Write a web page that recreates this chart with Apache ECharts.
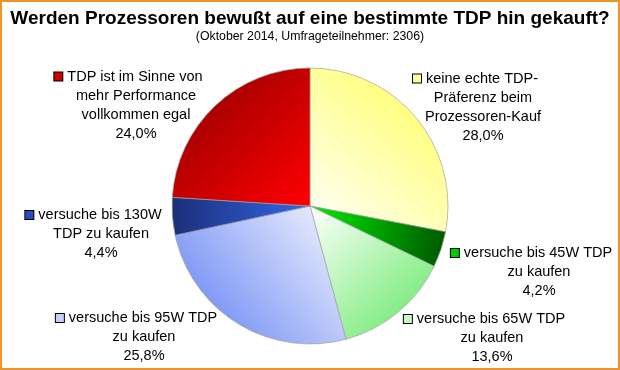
<!DOCTYPE html>
<html>
<head>
<meta charset="utf-8">
<script src="https://cdn.jsdelivr.net/npm/echarts@6/dist/echarts.min.js"></script>
<style>
html,body{margin:0;padding:0;background:#fff;}
#c{width:620px;height:370px;}
</style>
</head>
<body>
<div id="c"></div>
<script>
// ---- data ----
const titleText = 'Werden Prozessoren bewußt auf eine bestimmte TDP hin gekauft?';
const subtitleText = '(Oktober 2014, Umfrageteilnehmer: 2306)';
const categories = [
  'keine echte TDP-\nPräferenz beim\nProzessoren-Kauf',
  'versuche bis 45W TDP\nzu kaufen',
  'versuche bis 65W TDP\nzu kaufen',
  'versuche bis 95W TDP\nzu kaufen',
  'versuche bis 130W\nTDP zu kaufen',
  'TDP ist im Sinne von\nmehr Performance\nvollkommen egal'
];
const values = [28.0, 4.2, 13.6, 25.8, 4.4, 24.0];

// ---- styles ----
const gradients = [
  {x:0,y:1,x2:1,y2:0, c:['#ffffff','#ffff55']},
  {x:0,y:0,x2:1,y2:0.3, c:['#00ee00','#005a00']},
  {x:0,y:0,x2:1,y2:1, c:['#ffffff','#5ee85e']},
  {x:1,y:0,x2:0,y2:1, c:['#f8f8ff','#5a7cf2']},
  {x:0,y:0,x2:1,y2:0, c:['#1b2f78','#3466e8']},
  {x:0,y:0,x2:1,y2:1, c:['#8a0000','#ff0000']}
];
const markerColors = ['#ffff99','#00cc00','#c8f8c8','#c8d0f8','#2a4cc0','#cc0000'];
const labelPos = [
  [483, 107], [539, 272], [492, 338], [144, 337], [101, 234], [136, 105]
];

const data = values.map((v, i) => {
  const g = gradients[i];
  return {
    name: categories[i],
    value: v,
    itemStyle: {
      color: new echarts.graphic.LinearGradient(g.x, g.y, g.x2, g.y2, [
        {offset: 0, color: g.c[0]}, {offset: 1, color: g.c[1]}
      ])
    }
  };
});

const rich = {
  t: {fontFamily: 'Liberation Sans, Arial', fontSize: 14.5, color: '#000', lineHeight: 19},
  s: {width: 15, height: 10}
};
markerColors.forEach((c, i) => {
  rich['m' + i] = {width: 8, height: 8, backgroundColor: c, borderColor: '#000', borderWidth: 1};
  rich['g' + i] = {width: 5};
});

const chart = echarts.init(document.getElementById('c'), null, {renderer: 'canvas'});
chart.setOption({
  animation: false,
  backgroundColor: '#fff',
  title: {
    text: titleText,
    subtext: subtitleText,
    left: 'center',
    top: 4,
    itemGap: 3,
    textStyle: {fontFamily: 'Liberation Sans, Arial', fontSize: 19, fontWeight: 'bold', color: '#000'},
    subtextStyle: {fontFamily: 'Liberation Sans, Arial', fontSize: 12.3, color: '#000'}
  },
  graphic: [{
    type: 'rect', z: 100,
    shape: {x: 1, y: 1, width: 618, height: 368},
    style: {fill: null, stroke: '#f0922a', lineWidth: 2}
  }],
  series: [{
    type: 'pie',
    center: [310, 206],
    radius: [0, 138],
    startAngle: 90,
    clockwise: true,
    data: data,
    itemStyle: {borderColor: '#a0a0a0', borderWidth: 0.7},
    emphasis: {disabled: true},
    labelLine: {show: false},
    label: {
      show: true,
      position: 'outside',
      overflow: 'none',
      formatter: function (p) {
        const lines = p.name.split('\n');
        const pct = p.value.toFixed(1).replace('.', ',') + '%';
        let s = '{m' + p.dataIndex + '|}{g' + p.dataIndex + '|}{t|' + lines[0] + '}{s|}';
        for (let k = 1; k < lines.length; k++) s += '\n{t|' + lines[k] + '}';
        s += '\n{t|' + pct + '}';
        return s;
      },
      align: 'center',
      rich: rich
    },
    labelLayout: function (params) {
      const p = labelPos[params.dataIndex];
      return {x: p[0], y: p[1], align: 'center', verticalAlign: 'middle', hideOverlap: false, moveOverlap: false};
    }
  }]
});
</script>
</body>
</html>
